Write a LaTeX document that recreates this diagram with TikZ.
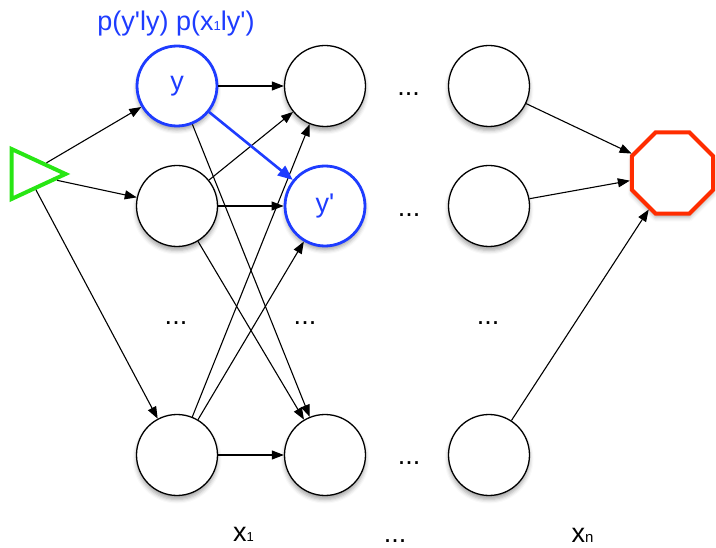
\documentclass[tikz,border=0pt]{standalone}
\usepackage{fontspec}
\setmainfont{Liberation Sans}[Ligatures=TeXOff]
\usetikzlibrary{arrows.meta,shapes.geometric,shadows.blur}
\definecolor{myblue}{RGB}{30,60,255}
\definecolor{myred}{RGB}{255,45,0}
\definecolor{mygreen}{RGB}{40,230,20}
\begin{document}
\begin{tikzpicture}[x=1pt,y=-1pt,
  state/.style={circle,draw=black,line width=1.3pt,fill=white,minimum size=81pt,inner sep=0pt,
    blur shadow={shadow xshift=0pt,shadow yshift=-4pt,shadow blur radius=4pt,shadow opacity=35}},
  bstate/.style={state,draw=myblue,line width=2.8pt,minimum size=80pt,text=myblue,font=\fontsize{27}{27}\selectfont},
  arr/.style={line width=1.1pt,-{Triangle[length=12pt,width=9pt]}},
  barr/.style={draw=myblue,line width=2.6pt,-{Triangle[length=15pt,width=12pt]}},
  lab/.style={font=\fontsize{27}{27}\selectfont,anchor=base,inner sep=0pt}]
\useasboundingbox (0,0) rectangle (716,548);
% start and end
\node[isosceles triangle,isosceles triangle stretches,draw=mygreen,line width=4pt,fill=white,
  inner sep=0pt,minimum width=50pt,minimum height=54pt] (tri) at (27.5,174) {};
\node[regular polygon,regular polygon sides=8,draw=myred,line width=4pt,fill=white,
  inner sep=0pt,minimum size=88pt,
  blur shadow={shadow xshift=0pt,shadow yshift=-4pt,shadow blur radius=4pt,shadow opacity=30}] (oct) at (672.5,173) {};
% column 1
\node[bstate] (a1) at (177,86) {\raisebox{-5pt}{y}};
\node[state] (a2) at (177,206) {};
\node[state] (a4) at (177,455) {};
% column 2
\node[state] (b1) at (325,86) {};
\node[bstate] (b2) at (325,206) {\raisebox{-5pt}{y'}};
\node[state] (b4) at (325,455) {};
% column n
\node[state] (d1) at (489,86) {};
\node[state] (d2) at (489,206) {};
\node[state] (d4) at (489,455) {};
% dots
\node[lab] (e1) at (408.5,95.5) {...};
\node[lab] (e2) at (409,216.5) {...};
\node[lab] (e3) at (176,324.5) {...};
\node[lab] (e4) at (305,324.5) {...};
\node[lab] (e5) at (488,324.5) {...};
\node[lab] (e6) at (409,464.5) {...};
\node[lab] (e7) at (395,542) {...};
% labels
\node[lab,text=myblue] (title) at (176,31) {p(y'ly) p(x{\fontsize{13}{13}\selectfont 1}ly')};
\node[lab] (x1) at (243.5,541) {x{\fontsize{13}{13}\selectfont 1}};
\node[lab] (xn) at (582.5,542) {x{\fontsize{15}{15}\selectfont n}};
% edges
\draw[arr] (tri) -- (a1);
\draw[arr] (tri) -- (a2);
\draw[arr] (tri) -- (a4);
\draw[arr] (a1) -- (b1);
\draw[arr] (a1) -- (b4);
\draw[arr] (a2) -- (b1);
\draw[arr] (a2) -- (b2);
\draw[arr] (a2) -- (b4);
\draw[arr] (a4) -- (b1);
\draw[arr] (a4) -- (b2);
\draw[arr] (a4) -- (b4);
\draw[barr] (a1) -- (b2);
\draw[arr] (d1) -- (oct);
\draw[arr] (d2) -- (oct);
\draw[arr] (d4) -- (oct);
\end{tikzpicture}
\end{document}
